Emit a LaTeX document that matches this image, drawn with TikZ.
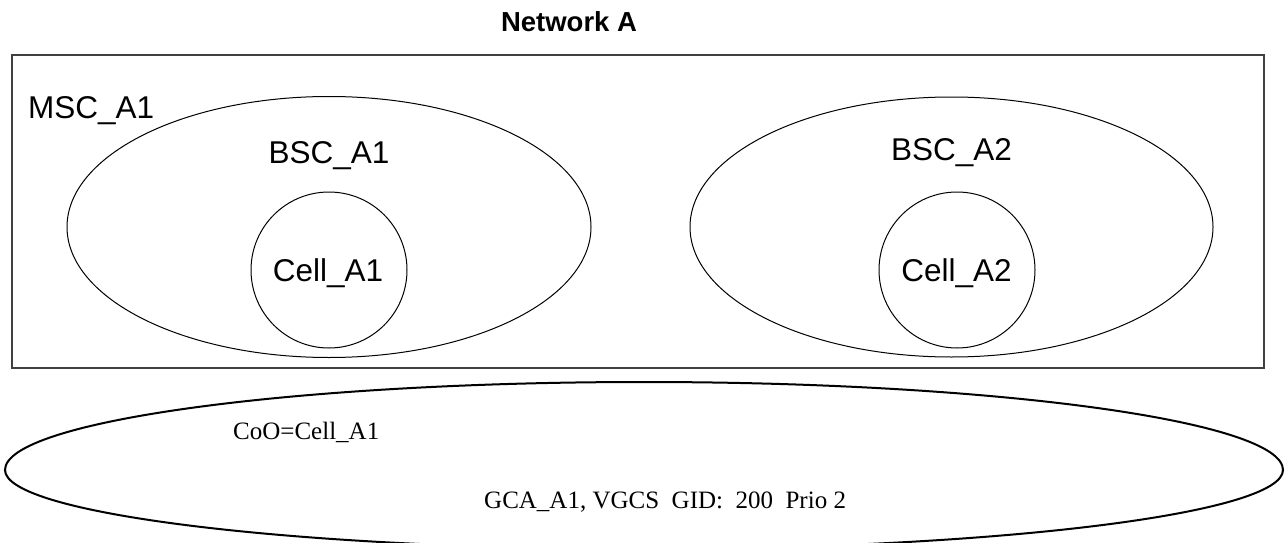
\documentclass[tikz,border=0pt]{standalone}
\usepackage{fontspec}
\setmainfont{Liberation Serif}
\setsansfont{Liberation Sans}
\usetikzlibrary{positioning}
\definecolor{framegrey}{HTML}{404040}
\definecolor{inkblack}{HTML}{000000}
\tikzset{
  zone/.style={draw=inkblack, line width=1pt},
  netbox/.style={draw=framegrey, line width=1.5pt},
  groupzone/.style={draw=inkblack, line width=2pt},
  lbl/.style={font=\fontsize{31.5}{36}\sffamily, inner sep=0pt, anchor=base},
  grouplbl/.style={font=\fontsize{25}{30}\rmfamily, inner sep=0pt, anchor=base west}
}

\begin{document}
\begin{tikzpicture}[x=1pt, y=-1pt]
  \useasboundingbox (0,0) rectangle (1288,543);

  % ===== Network A frame =====
  \node[font=\fontsize{27.5}{32}\sffamily\bfseries, inner sep=0pt, anchor=base]
       (netA) at (569,32) {Network A};
  \draw[netbox] (12,55) rectangle (1264,368);
  \node[lbl, anchor=base west] (mscA1) at (28,118) {MSC\_A1};

  % ===== BSC areas with their cells =====
  \draw[zone] (329,227) ellipse [x radius=262pt, y radius=130.5pt];
  \draw[zone] (329,270) circle [radius=78pt];
  \node[lbl] (bscA1) at (329,163) {BSC\_A1};
  \node[lbl] (cellA1) at (328,281) {Cell\_A1};

  \draw[zone] (951.5,227) ellipse [x radius=261.5pt, y radius=130pt];
  \draw[zone] (957,270) circle [radius=78pt];
  \node[lbl] (bscA2) at (951.5,160) {BSC\_A2};
  \node[lbl] (cellA2) at (956.5,281) {Cell\_A2};

  % ===== group call area (upper half rounder, runs off the bottom edge) =====
  \begin{scope}
    \clip (0,0) rectangle (1288,470);
    \draw[groupzone] (644,470) ellipse [x radius=639pt, y radius=88pt];
  \end{scope}
  \begin{scope}
    \clip (0,470) rectangle (1288,543);
    \draw[groupzone] (644,470) ellipse [x radius=639pt, y radius=79pt];
  \end{scope}
  \node[grouplbl] (coo) at (233,439) {CoO=Cell\_A1};
  \node[grouplbl] (gca) at (484,508) {GCA\_A1, VGCS\ \ GID:\ \ 200\ \ Prio 2};
\end{tikzpicture}
\end{document}
